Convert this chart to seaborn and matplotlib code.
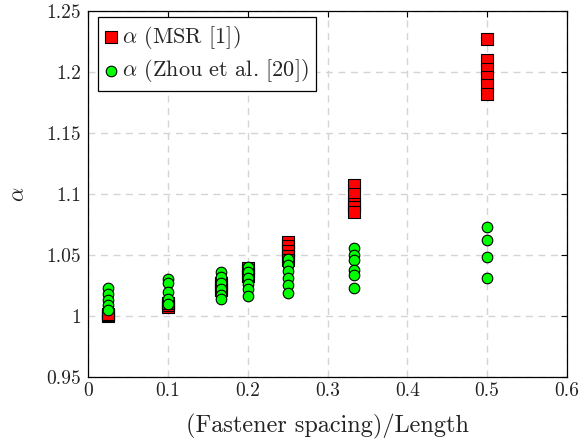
import numpy as np
import pandas as pd
import matplotlib
matplotlib.use("Agg")
import matplotlib.pyplot as plt
import seaborn as sns

# Fastener spacing / length ratios
spacing = [0.025, 0.1, 1 / 6, 0.2, 0.25, 1 / 3, 0.5]

# alpha from MSR [1], one list per spacing ratio
msr_alpha = [
    [1.000, 1.001, 1.002],
    [1.007, 1.009, 1.011],
    [1.027, 1.024, 1.021],
    [1.039, 1.036, 1.033],
    [1.061, 1.057, 1.053, 1.049, 1.046],
    [1.107, 1.100, 1.0915, 1.089, 1.085],
    [1.227, 1.2095, 1.2025, 1.196, 1.189, 1.182],
]

# alpha from Zhou et al. [20]
zhou_alpha = [
    [1.023, 1.018, 1.013, 1.009, 1.005],
    [1.030, 1.027, 1.020, 1.014, 1.010],
    [1.036, 1.032, 1.027, 1.022, 1.017, 1.014],
    [1.040, 1.036, 1.031, 1.026, 1.022, 1.016],
    [1.047, 1.042, 1.037, 1.031, 1.025, 1.019],
    [1.056, 1.050, 1.046, 1.038, 1.034, 1.023],
    [1.073, 1.062, 1.048, 1.031],
]

x_ticks = [0, 0.1, 0.2, 0.3, 0.4, 0.5, 0.6]
x_ticklabels = ["0", "0.1", "0.2", "0.3", "0.4", "0.5", "0.6"]
y_ticks = [0.95, 1.0, 1.05, 1.1, 1.15, 1.2, 1.25]
y_ticklabels = ["0.95", "1", "1.05", "1.1", "1.15", "1.2", "1.25"]


def to_frame(groups):
    rows = [(s, a) for s, vals in zip(spacing, groups) for a in vals]
    return pd.DataFrame(rows, columns=["spacing", "alpha"])


msr_df = to_frame(msr_alpha)
zhou_df = to_frame(zhou_alpha)

sns.set_theme(style="white")
plt.rcParams["font.family"] = ["cmr10", "DejaVu Serif"]
plt.rcParams["mathtext.fontset"] = "cm"
plt.rcParams["axes.formatter.use_mathtext"] = True

fig = plt.figure(figsize=(5.81, 4.43), dpi=100)
ax = fig.add_axes([88 / 581, 66 / 443, 479 / 581, 366 / 443])

sns.scatterplot(data=msr_df, x="spacing", y="alpha", ax=ax, marker="s",
                s=82, color="#ff0000", edgecolor="black", linewidth=0.8,
                label=r"$\alpha$ (MSR [1])", zorder=3)
sns.scatterplot(data=zhou_df, x="spacing", y="alpha", ax=ax, marker="o",
                s=58, color="#00ff00", edgecolor="black", linewidth=0.8,
                label=r"$\alpha$ (Zhou et al. [20])", zorder=4)

ax.set_xlim(0, 0.6)
ax.set_ylim(0.95, 1.25)
ax.set_xticks(x_ticks)
ax.set_xticklabels(x_ticklabels)
ax.set_yticks(y_ticks)
ax.set_yticklabels(y_ticklabels)

ax.grid(True, linestyle=(0, (5, 4)), color="#d4d4d4", linewidth=1.0)
ax.set_axisbelow(True)
for sp in ax.spines.values():
    sp.set_color("black")
    sp.set_linewidth(0.9)
ax.tick_params(direction="in", length=4, width=0.8, top=True, right=True,
               labelsize=14, color="black", labelcolor="#222222")
ax.tick_params(axis="y", pad=5)
ax.tick_params(axis="x", pad=4)

ax.set_xlabel("(Fastener spacing)/Length", fontsize=17.5, labelpad=10,
              color="#222222")
ax.set_ylabel(r"$\alpha$", fontsize=16, labelpad=13, color="#222222")

leg = ax.legend(loc="upper left", bbox_to_anchor=(10 / 479, 1 - 6 / 366),
                borderaxespad=0, frameon=True, fancybox=False, fontsize=16,
                handletextpad=0.2, handlelength=0.6, borderpad=0.3,
                labelspacing=0.3)
leg.get_frame().set_edgecolor("black")
leg.get_frame().set_linewidth(0.9)
leg.get_frame().set_alpha(1)

fig.savefig("out.png", dpi=100)
